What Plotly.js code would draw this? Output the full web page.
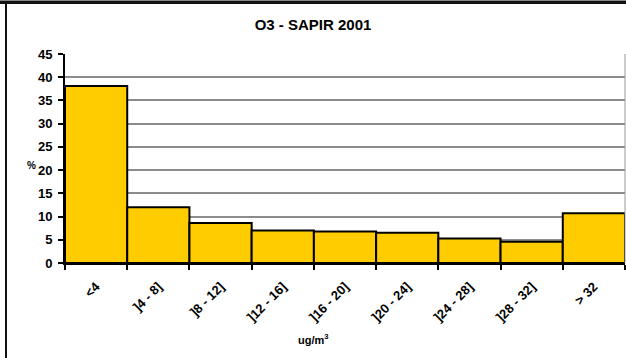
<!DOCTYPE html>
<html>
<head>
<meta charset="utf-8">
<script src="https://cdn.plot.ly/plotly-3.0.1.min.js"></script>
<style>
html,body{margin:0;padding:0;background:#fff;}
#wrap{position:relative;width:626px;height:358px;overflow:hidden;}
#chart{position:absolute;left:0;top:0;width:626px;height:358px;}
.fr{position:absolute;pointer-events:none;}
</style>
</head>
<body>
<div id="wrap">
<div id="chart"></div>
<div class="fr" style="left:0;top:0;width:626px;height:1px;background:#888;"></div>
<div class="fr" style="left:0;top:1px;width:626px;height:3px;background:#111;"></div>
<div class="fr" style="left:5px;top:4px;width:2px;height:354px;background:#111;"></div>
</div>
<script>
var categories = ["<4", "]4 - 8]", "]8 - 12]", "]12 - 16]", "]16 - 20]", "]20 - 24]", "]24 - 28]", "]28 - 32]", "> 32"];
var values = [38.1, 12.0, 8.6, 7.0, 6.8, 6.5, 5.3, 4.6, 10.7];
var yTickVals = [0, 5, 10, 15, 20, 25, 30, 35, 40, 45];

var FONT = "Arial, 'Liberation Sans', sans-serif";

var trace = {
  type: "bar",
  x: categories,
  y: values,
  marker: {color: "#FFCC00", line: {color: "#000000", width: 2}},
  hoverinfo: "none"
};

var W = 626, H = 358, L = 65, R = 1, T = 54, B = 95;

function bold(s) { return "<b>" + s.replace(/</g, "&lt;").replace(/>/g, "&gt;") + "</b>"; }

var layout = {
  width: W, height: H,
  margin: {l: L, r: R, t: T, b: B, pad: 0},
  paper_bgcolor: "#ffffff",
  plot_bgcolor: "#ffffff",
  bargap: 0,
  showlegend: false,
  font: {family: FONT, color: "#000", size: 11},
  title: {
    text: "<b>O3 - SAPIR 2001</b>",
    font: {family: FONT, size: 15, color: "#000"},
    x: 0.5, xref: "container", xanchor: "center",
    y: 1 - 25/H, yref: "container", yanchor: "middle"
  },
  xaxis: {
    type: "category",
    tickmode: "array",
    tickvals: categories,
    ticktext: categories.map(bold),
    showline: true, linecolor: "#000", linewidth: 2,
    ticks: "outside", tickson: "boundaries", ticklen: 5, tickwidth: 2, tickcolor: "#000",
    tickangle: -45,
    ticklabelstandoff: 9,
    tickfont: {family: FONT, size: 13, color: "#000"},
    showgrid: false, zeroline: false, fixedrange: true
  },
  yaxis: {
    range: [0, 45],
    tickmode: "array",
    tickvals: yTickVals,
    ticktext: yTickVals.map(function (v) { return "<b>" + v + "</b>"; }),
    showline: true, linecolor: "#000", linewidth: 2,
    ticks: "outside", ticklen: 5, tickwidth: 2, tickcolor: "#000",
    ticklabelstandoff: 3,
    tickfont: {family: FONT, size: 13, color: "#000"},
    showgrid: true, gridcolor: "#8c8c8c", gridwidth: 2,
    zeroline: false, fixedrange: true
  },
  shapes: [
    {type: "line", xref: "paper", yref: "paper", x0: 1, x1: 1, y0: 0, y1: 1,
     line: {color: "#9a9a9a", width: 1}}
  ],
  annotations: [
    {text: "<b>%</b>", xref: "paper", yref: "paper",
     x: (31 - L) / (W - L - R), y: (263 - 165) / (H - T - B),
     xanchor: "center", yanchor: "middle", showarrow: false,
     font: {family: FONT, size: 10, color: "#000"}},
    {text: "<b>ug/m<sup>3</sup></b>", xref: "paper", yref: "paper",
     x: (313 - L) / (W - L - R), y: -(339 - 263) / (H - T - B),
     xanchor: "center", yanchor: "middle", showarrow: false,
     font: {family: FONT, size: 11, color: "#000"}}
  ]
};

Plotly.newPlot("chart", [trace], layout, {displayModeBar: false, staticPlot: true});
</script>
</body>
</html>
